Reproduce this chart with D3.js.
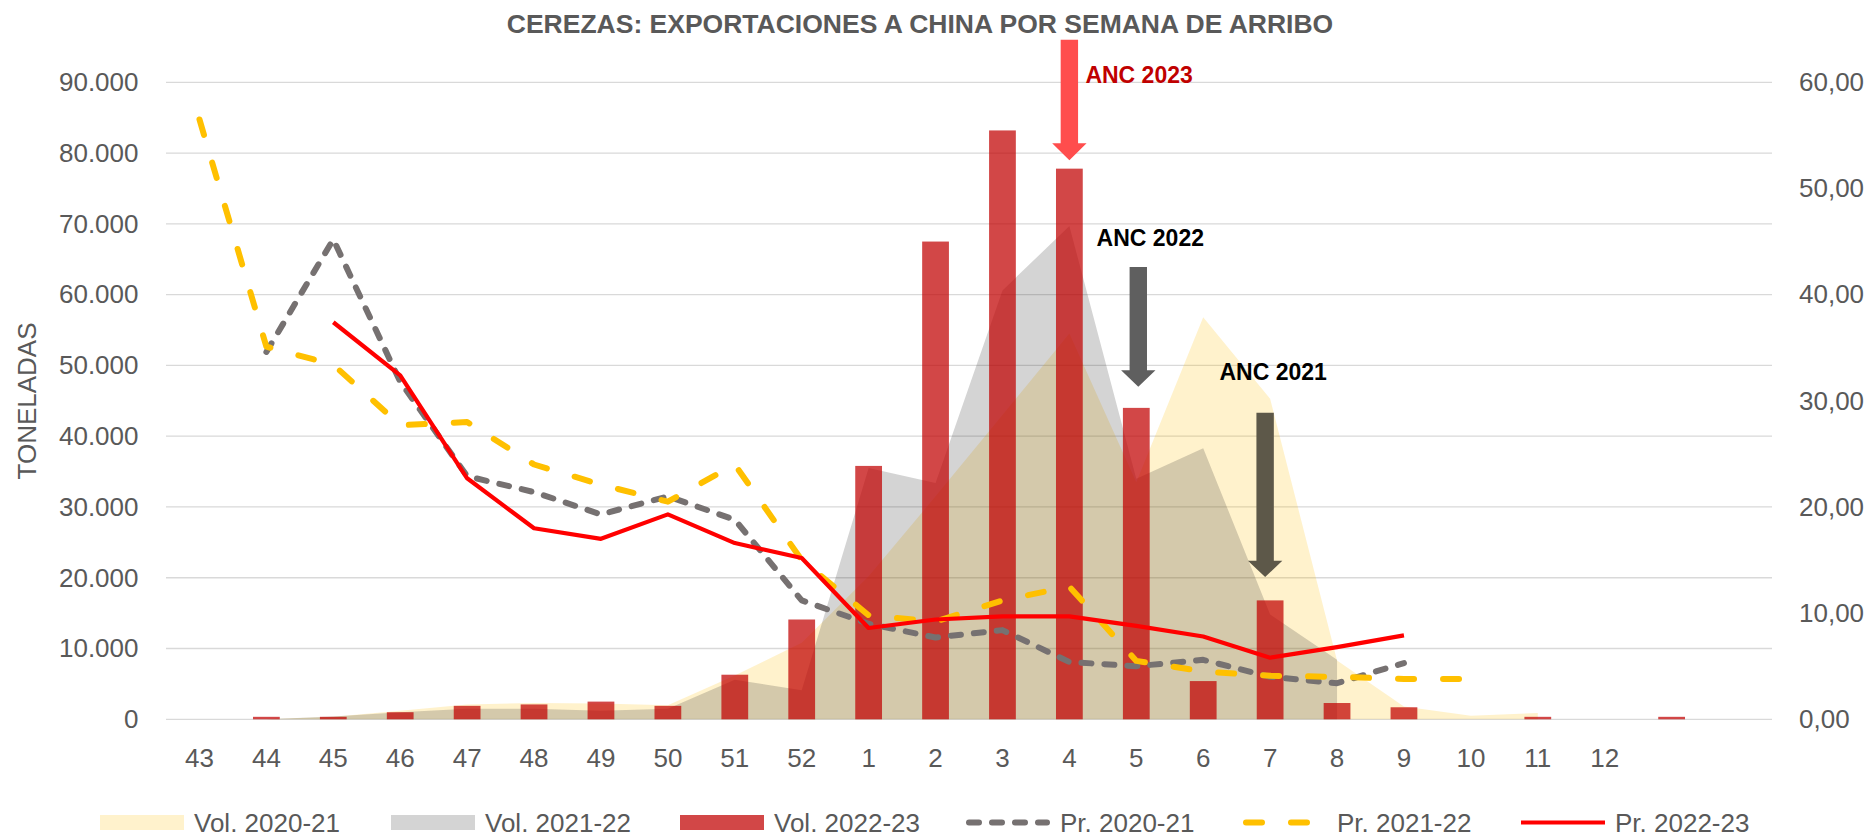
<!DOCTYPE html>
<html>
<head>
<meta charset="utf-8">
<script src="https://cdn.jsdelivr.net/npm/d3@7"></script>
<style>
  html, body { margin: 0; padding: 0; background: #fff; }
  svg { display: block; font-family: "Liberation Sans", Arial, sans-serif; }
</style>
</head>
<body>
<div id="chart"></div>
<script>
// semanas de arribo (las dos últimas sin etiqueta)
const weeks = ["43","44","45","46","47","48","49","50","51","52","1","2","3","4","5","6","7","8","9","10","11","12","",""];

// volúmenes (toneladas, eje izquierdo)
const vol2021 = [null,0,350,1200,2100,2300,2250,2000,6200,10800,20200,31500,43000,54500,33500,56800,45300,8300,1800,500,900,null,null,null];
const vol2122 = [null,0,400,1000,1500,1500,1200,1500,5600,4100,35500,33400,60600,69700,34000,38300,14800,8400,null,null,null,null,null,null];
const vol2223 = [0,350,350,1000,1900,2100,2500,1900,6300,14100,35800,67500,83200,77800,44000,5400,16800,2300,1700,0,350,0,350,0];

// precios (eje derecho)
const pr2021 = [null,34.6,45.2,31.8,22.9,21.4,19.3,21.0,18.8,11.2,9.0,7.7,8.4,5.4,5.0,5.6,4.0,3.4,5.3,null,null,null,null,null];
const pr2122 = [56.5,35.1,33.4,27.7,28.0,24.0,22.1,20.5,24.0,15.0,9.8,9.2,11.2,12.5,5.5,4.5,4.1,4.0,3.8,3.8,null,null,null,null];
const pr2223 = [null,null,37.4,32.4,22.7,18.0,17.0,19.3,16.6,15.2,8.6,9.4,9.7,9.7,8.8,7.8,5.8,6.8,7.9,null,null,null,null,null];

const leftTicks = [0,10000,20000,30000,40000,50000,60000,70000,80000,90000];
const rightTicks = [0,10,20,30,40,50,60];

const legendLabels = ["Vol. 2020-21","Vol. 2021-22","Vol. 2022-23","Pr. 2020-21","Pr. 2021-22","Pr. 2022-23"];

// flechas de anotación (semana + valores en toneladas)
const notes = [
  { text: "ANC 2023", week: 13, dx: 0,  top: 96000, head: 81400, tip: 79000, fill: "#ff4d4d", color: "#c00000", ldx: 16, ly: 89900, anchor: "start" },
  { text: "ANC 2022", week: 14, dx: 2,  top: 63900, head: 49300, tip: 47000, fill: "#5f5f5f", color: "#000000", ldx: 12, ly: 66900, anchor: "middle" },
  { text: "ANC 2021", week: 16, dx: -5, top: 43300, head: 22400, tip: 20100, fill: "#5d5849", color: "#000000", ldx: 8,  ly: 48000, anchor: "middle" }
];

const W = 1872, H = 838;
const plot = { left: 166, right: 1772, top: 82.3, bottom: 719.3 };

const svg = d3.select("#chart").append("svg").attr("width", W).attr("height", H);

const x = d3.scaleBand().domain(d3.range(weeks.length)).range([plot.left, plot.right]).padding(0);
const xc = i => x(i) + x.bandwidth() / 2;
const y = d3.scaleLinear().domain([0, 90000]).range([plot.bottom, plot.top]);
const y2 = d3.scaleLinear().domain([0, 60]).range([plot.bottom, plot.top]);

const loc = d3.formatLocale({ decimal: ",", thousands: ".", grouping: [3], currency: ["", ""] });

// título
svg.append("text")
  .attr("x", 920).attr("y", 33)
  .attr("text-anchor", "middle")
  .style("font-size", "26.5px").style("font-weight", "bold").style("fill", "#595959")
  .text("CEREZAS: EXPORTACIONES A CHINA POR SEMANA DE ARRIBO");

// grilla
svg.append("g").selectAll("line")
  .data(leftTicks).enter().append("line")
  .attr("x1", plot.left).attr("x2", plot.right)
  .attr("y1", d => y(d)).attr("y2", d => y(d))
  .attr("stroke", "#d9d9d9").attr("stroke-width", 1.3);

// áreas
const area = d3.area()
  .defined(d => d != null)
  .x((d, i) => xc(i))
  .y0(y(0))
  .y1(d => y(d));

svg.append("path").datum(vol2021).attr("d", area)
  .attr("fill", "#ffc000").attr("fill-opacity", 0.2);
svg.append("path").datum(vol2122).attr("d", area)
  .attr("fill", "#282828").attr("fill-opacity", 0.2);

// barras
const bw = x.bandwidth() * 0.4;
svg.append("g").selectAll("rect")
  .data(vol2223).enter().append("rect")
  .attr("x", (d, i) => xc(i) - bw / 2)
  .attr("y", d => y(d))
  .attr("width", bw)
  .attr("height", d => y(0) - y(d))
  .attr("fill", "#c00000").attr("fill-opacity", 0.72);

// líneas de precio
const line = d3.line()
  .defined(d => d != null)
  .x((d, i) => xc(i))
  .y(d => y2(d));

const lineStyles = [
  { data: pr2021, color: "#767171", width: 6, dash: "10,13" },
  { data: pr2122, color: "#ffc000", width: 6, dash: "16,29" },
  { data: pr2223, color: "#ff0000", width: 4.2, dash: null }
];
lineStyles.forEach(s => {
  svg.append("path").datum(s.data).attr("d", line)
    .attr("fill", "none")
    .attr("stroke", s.color).attr("stroke-width", s.width)
    .attr("stroke-dasharray", s.dash)
    .attr("stroke-linecap", s.dash ? "round" : "butt")
    .attr("stroke-linejoin", "round");
});

// ejes
const axisFont = g => g.selectAll("text").style("font-size", "26px").style("fill", "#595959");

svg.append("g")
  .attr("transform", `translate(${plot.left},0)`)
  .call(d3.axisLeft(y).tickValues(leftTicks).tickSize(0).tickPadding(27.5).tickFormat(loc.format(",.0f")))
  .call(g => g.select(".domain").remove())
  .call(axisFont);

svg.append("g")
  .attr("transform", `translate(${plot.right},0)`)
  .call(d3.axisRight(y2).tickValues(rightTicks).tickSize(0).tickPadding(27).tickFormat(loc.format(".2f")))
  .call(g => g.select(".domain").remove())
  .call(axisFont);

svg.append("g")
  .attr("transform", `translate(0,${plot.bottom})`)
  .call(d3.axisBottom(x).tickSize(0).tickPadding(29).tickFormat(i => weeks[i]))
  .call(g => g.select(".domain").remove())
  .call(axisFont);

svg.append("text")
  .attr("transform", `translate(36,401) rotate(-90)`)
  .attr("text-anchor", "middle")
  .style("font-size", "26px").style("fill", "#595959")
  .text("TONELADAS");

// flechas y etiquetas ANC
notes.forEach(n => {
  const cx = xc(n.week) + n.dx;
  const t = y(n.top), h = y(n.head), p = y(n.tip);
  const sw = 8.7, hw = 17.2;
  const pts = [[cx - sw, t], [cx + sw, t], [cx + sw, h], [cx + hw, h], [cx, p], [cx - hw, h], [cx - sw, h]];
  svg.append("path")
    .attr("d", "M" + pts.map(q => q.join(",")).join("L") + "Z")
    .attr("fill", n.fill);
  svg.append("text")
    .attr("x", cx + n.ldx).attr("y", y(n.ly))
    .attr("text-anchor", n.anchor)
    .style("font-size", "23px").style("font-weight", "bold").style("fill", n.color)
    .text(n.text);
});

// leyenda
const legendX = [100, 391, 680, 966, 1243, 1521];
const legendSwatch = [
  { type: "rect", fill: "#ffc000", op: 0.2 },
  { type: "rect", fill: "#282828", op: 0.2 },
  { type: "rect", fill: "#c00000", op: 0.72 },
  { type: "line", s: lineStyles[0] },
  { type: "line", s: lineStyles[1] },
  { type: "line", s: lineStyles[2] }
];
const ly = 822.5, sWidth = 84;
const lg = svg.append("g");
legendLabels.forEach((lab, i) => {
  const sx = legendX[i], sw = legendSwatch[i];
  if (sw.type === "rect") {
    lg.append("rect").attr("x", sx).attr("y", ly - 7.5).attr("width", sWidth).attr("height", 15)
      .attr("fill", sw.fill).attr("fill-opacity", sw.op);
  } else {
    lg.append("line").attr("x1", sx + (sw.s.dash ? 3 : 0)).attr("x2", sx + sWidth - (sw.s.dash ? 3 : 0))
      .attr("y1", ly).attr("y2", ly)
      .attr("stroke", sw.s.color).attr("stroke-width", sw.s.width)
      .attr("stroke-dasharray", sw.s.dash)
      .attr("stroke-linecap", sw.s.dash ? "round" : "butt");
  }
  lg.append("text").attr("x", sx + sWidth + 10).attr("y", ly + 9.3)
    .style("font-size", "26px").style("fill", "#595959")
    .text(lab);
});
</script>
</body>
</html>
